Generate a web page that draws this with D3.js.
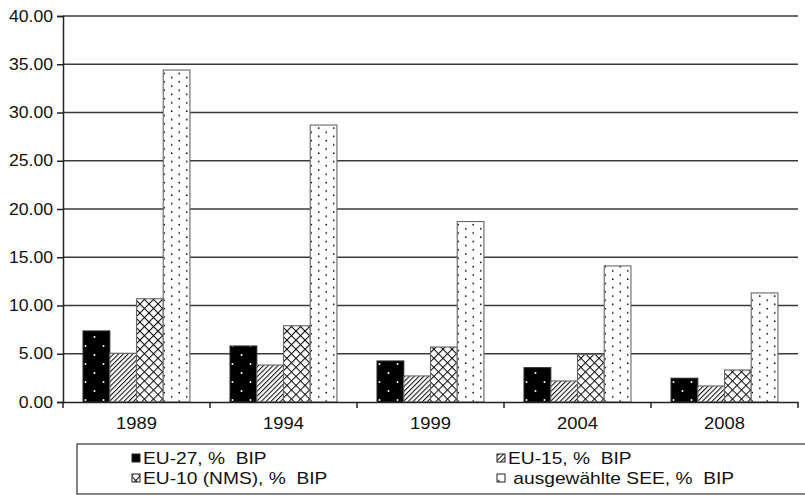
<!DOCTYPE html>
<html>
<head>
<meta charset="utf-8">
<script src="https://cdn.jsdelivr.net/npm/d3@7"></script>
<style>
  html, body { margin: 0; padding: 0; background: #fff; }
  svg { display: block; }
  text { font-family: "Liberation Sans", Arial, sans-serif; fill: #111; white-space: pre; }
</style>
</head>
<body>
<svg id="chart" width="805" height="495"></svg>
<script>
// Years on the x axis
const years = ["1989", "1994", "1999", "2004", "2008"];
// Series names (legend order)
const seriesNames = ["EU-27, %  BIP", "EU-15, %  BIP", "EU-10 (NMS), %  BIP", " ausgewählte SEE, %  BIP"];
// Values per series, one per year
const eu27 = [7.36, 5.80, 4.25, 3.55, 2.46];
const eu15 = [5.05, 3.83, 2.70, 2.18, 1.66];
const eu10 = [10.70, 7.90, 5.70, 4.94, 3.32];
const see  = [34.40, 28.70, 18.70, 14.10, 11.30];
// Y axis ticks
const yTicks = [0, 5, 10, 15, 20, 25, 30, 35, 40];

const seriesValues = [eu27, eu15, eu10, see];
const patternIds = ["pBlackDots", "pHatch", "pCross", "pDots"];
const SX = 1.15;   // horizontal stretch of category text
const SXL = 1.2;   // horizontal stretch of legend text
const SXY = 1.1;   // horizontal stretch of value-axis text

const svg = d3.select("#chart");
const defs = svg.append("defs");

// Black fill with sparse white dots
const p1 = defs.append("pattern").attr("id", "pBlackDots").attr("patternUnits", "userSpaceOnUse")
  .attr("width", 18).attr("height", 18);
p1.append("rect").attr("width", 18).attr("height", 18).attr("fill", "#000");
p1.append("circle").attr("cx", 4.5).attr("cy", 4).attr("r", 1).attr("fill", "#fff");
p1.append("circle").attr("cx", 13.5).attr("cy", 13).attr("r", 1).attr("fill", "#fff");

// Diagonal "/" hatching
const p2 = defs.append("pattern").attr("id", "pHatch").attr("patternUnits", "userSpaceOnUse")
  .attr("width", 3.4).attr("height", 3.4).attr("patternTransform", "rotate(45)");
p2.append("rect").attr("width", 3.4).attr("height", 3.4).attr("fill", "#fff");
p2.append("line").attr("x1", 0.5).attr("y1", 0).attr("x2", 0.5).attr("y2", 3.4)
  .attr("stroke", "#111").attr("stroke-width", 1.1);

// Diagonal cross-hatch
const p3 = defs.append("pattern").attr("id", "pCross").attr("patternUnits", "userSpaceOnUse")
  .attr("width", 6.4).attr("height", 6.4).attr("patternTransform", "rotate(45)");
p3.append("rect").attr("width", 6.4).attr("height", 6.4).attr("fill", "#fff");
p3.append("line").attr("x1", 0.5).attr("y1", 0).attr("x2", 0.5).attr("y2", 6.4)
  .attr("stroke", "#111").attr("stroke-width", 1.1);
p3.append("line").attr("x1", 0).attr("y1", 0.5).attr("x2", 6.4).attr("y2", 0.5)
  .attr("stroke", "#111").attr("stroke-width", 1.1);

// White fill with dense black dots
const p4 = defs.append("pattern").attr("id", "pDots").attr("patternUnits", "userSpaceOnUse")
  .attr("width", 15).attr("height", 8.4);
p4.append("rect").attr("width", 15).attr("height", 8.4).attr("fill", "#fff");
p4.append("circle").attr("cx", 3.75).attr("cy", 2).attr("r", 0.9).attr("fill", "#111");
p4.append("circle").attr("cx", 11.25).attr("cy", 6.2).attr("r", 0.9).attr("fill", "#111");

// Scales
const y = d3.scaleLinear().domain([0, 40]).range([402, 16]);
const x0 = d3.scaleBand().domain(years).range([63, 798]).padding(0);
const x1 = d3.scaleBand().domain(d3.range(seriesNames.length))
  .range([0, x0.bandwidth()]).paddingInner(0).paddingOuter(0.75);

// Gridlines
svg.append("g").selectAll("line").data(yTicks.filter(d => d > 0)).join("line")
  .attr("x1", 63).attr("x2", 798)
  .attr("y1", d => y(d)).attr("y2", d => y(d))
  .attr("stroke", "#3a3a3a").attr("stroke-width", 1.5);

// Bars
const groups = svg.append("g").selectAll("g").data(years).join("g")
  .attr("transform", d => `translate(${x0(d)},0)`);
groups.selectAll("rect")
  .data((yr, i) => seriesValues.map((vals, s) => ({ s, v: vals[i] })))
  .join("rect")
  .attr("x", d => x1(d.s))
  .attr("width", x1.bandwidth())
  .attr("y", d => y(d.v))
  .attr("height", d => y(0) - y(d.v))
  .attr("fill", d => `url(#${patternIds[d.s]})`)
  .attr("stroke", d => d.s === 0 ? "#222" : "#666")
  .attr("stroke-width", 1.1);

// Y axis
const yAxis = svg.append("g").attr("transform", "translate(63,0)")
  .call(d3.axisLeft(y).tickValues(yTicks).tickFormat(d3.format(".2f")).tickSize(6).tickPadding(4));
yAxis.select(".domain").attr("stroke", "#222").attr("stroke-width", 1.5);
yAxis.selectAll(".tick line").attr("stroke", "#222").attr("stroke-width", 1.5);
yAxis.selectAll(".tick text")
  .attr("font-size", 16).attr("font-family", "Liberation Sans, Arial, sans-serif")
  .attr("fill", "#111")
  .attr("x", -10 / SXY).attr("transform", `scale(${SXY},1)`);

// X axis: baseline, boundary ticks, centered labels
const xAxis = svg.append("g").attr("transform", `translate(0,${y(0)})`)
  .call(d3.axisBottom(x0).tickSize(0).tickPadding(16));
xAxis.select(".domain").attr("stroke", "#222").attr("stroke-width", 1.5);
xAxis.selectAll(".tick text")
  .attr("font-size", 16).attr("font-family", "Liberation Sans, Arial, sans-serif")
  .attr("fill", "#111")
  .attr("transform", `scale(${SX},1)`)
  .attr("x", 0);
const bounds = years.map(d => x0(d)).concat([x0.range()[1]]);
xAxis.append("g").selectAll("line").data(bounds).join("line")
  .attr("x1", d => d).attr("x2", d => d).attr("y1", 0).attr("y2", 6)
  .attr("stroke", "#222").attr("stroke-width", 1.5);

// Legend
const legend = svg.append("g");
legend.append("rect").attr("x", 77).attr("y", 444).attr("width", 740).attr("height", 50)
  .attr("fill", "#fff").attr("stroke", "#333").attr("stroke-width", 1.2);
const legendPos = [
  { x: 132, y: 458 }, { x: 497, y: 458 },
  { x: 132, y: 478 }, { x: 497, y: 478 }
];
seriesNames.forEach((name, i) => {
  const p = legendPos[i];
  legend.append("rect").attr("x", p.x).attr("y", p.y - 4).attr("width", 8).attr("height", 8)
    .attr("fill", `url(#${patternIds[i]})`).attr("stroke", "#222").attr("stroke-width", 1);
  legend.append("text")
    .attr("transform", `translate(${p.x + 11},${p.y + 6}) scale(${SXL},1)`)
    .attr("font-size", 16)
    .text(name);
});
</script>
</body>
</html>
